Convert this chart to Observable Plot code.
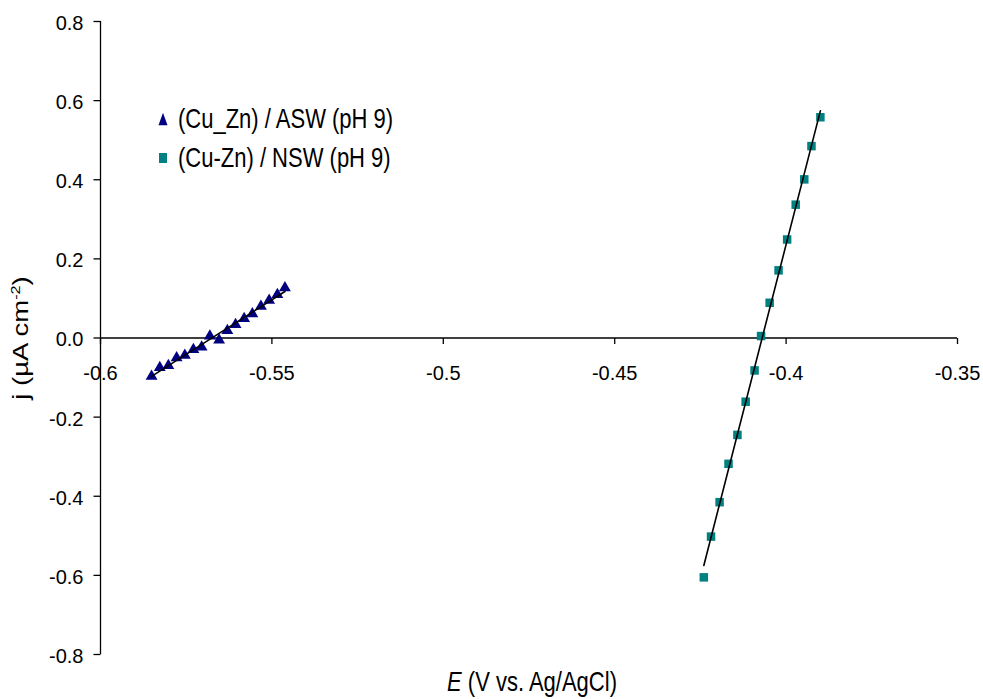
<!DOCTYPE html>
<html><head><meta charset="utf-8">
<script src="https://cdn.jsdelivr.net/npm/d3@7"></script>
<script src="https://cdn.jsdelivr.net/npm/@observablehq/plot@0.6"></script>
<style>
body{margin:0;background:#fff;font-family:"Liberation Sans",Arial,sans-serif;}
#wrap{position:relative;width:983px;height:699px;overflow:hidden;}
.lbl{position:absolute;white-space:nowrap;color:#000;font-size:22px;line-height:22px;}
</style></head><body><div id="wrap"></div>
<script>
// ---- data ----
const aswE = [-0.5851,-0.5827,-0.5802,-0.5778,-0.5754,-0.5729,-0.5705,-0.5681,-0.5654,-0.5630,-0.5606,-0.5581,-0.5557,-0.5532,-0.5508,-0.5484,-0.5462];
const aswJ = [-0.097,-0.075,-0.070,-0.050,-0.044,-0.029,-0.023,0.005,-0.005,0.019,0.034,0.049,0.061,0.080,0.095,0.110,0.127];
const nswE = [-0.3900,-0.3926,-0.3947,-0.3972,-0.3997,-0.4022,-0.4048,-0.4073,-0.4092,-0.4118,-0.4142,-0.4168,-0.4194,-0.4219,-0.4240];
const nswJ = [0.558,0.485,0.401,0.337,0.249,0.171,0.089,0.005,-0.082,-0.161,-0.245,-0.318,-0.415,-0.502,-0.605];
const seriesNames = ["(Cu_Zn) / ASW (pH 9)", "(Cu-Zn) / NSW (pH 9)"];
const seriesColors = ["#000080", "#008080"];
const xTicks = [-0.6,-0.55,-0.5,-0.45,-0.4,-0.35];
const xTickLabels = ["-0.6","-0.55","-0.5","-0.45","-0.4","-0.35"];
const yTicks = [0.8,0.6,0.4,0.2,0,-0.2,-0.4,-0.6,-0.8];
const yTickLabels = ["0.8","0.6","0.4","0.2","0.0","-0.2","-0.4","-0.6","-0.8"];
const xAxisAt = 0;      // x axis crosses at j = 0
const yAxisAt = -0.6;   // y axis at E = -0.6

const asw = aswE.map((e,i)=>({E:e, j:aswJ[i]}));
const nsw = nswE.map((e,i)=>({E:e, j:nswJ[i]}));

const tickDown = {draw(ctx){ctx.moveTo(0,0); ctx.lineTo(0,6);}};
const tickLeft = {draw(ctx){ctx.moveTo(0,0); ctx.lineTo(-7,0);}};

const chart = Plot.plot({
  width: 983, height: 699,
  marginTop: 21, marginBottom: 45, marginLeft: 100, marginRight: 26,
  x: {domain: [-0.6, -0.35], axis: null},
  y: {domain: [-0.8, 0.8], axis: null},
  style: {fontFamily: '"Liberation Sans", Arial, sans-serif', fontSize: "20px", background: "#fff"},
  marks: [
    Plot.ruleY([xAxisAt], {stroke: "black", strokeWidth: 1.3}),
    Plot.ruleX([yAxisAt], {stroke: "black", strokeWidth: 1.3}),
    Plot.dot(xTicks, {x: d=>d, y: ()=>xAxisAt, symbol: tickDown, r: 1, fill: "none", stroke: "black", strokeWidth: 1.3}),
    Plot.dot(yTicks, {y: d=>d, frameAnchor: "left", symbol: tickLeft, r: 1, fill: "none", stroke: "black", strokeWidth: 1.3}),
    Plot.text(xTicks, {x: d=>d, y: ()=>xAxisAt, text: (d,i)=>xTickLabels[i], dy: 36, fontSize: 20, fill: "black"}),
    Plot.text(yTicks, {y: d=>d, frameAnchor: "left", text: (d,i)=>yTickLabels[i], dx: -17, dy: 2, textAnchor: "end", fontSize: 20, fill: "black"}),
    Plot.dot(asw, {x: "E", y: "j", symbol: "triangle", r: 4.4, fill: seriesColors[0], stroke: "none"}),
    Plot.dot(nsw, {x: "E", y: "j", symbol: "square", r: 4.8, fill: seriesColors[1], stroke: "none"}),
    Plot.linearRegressionY(asw, {x: "E", y: "j", stroke: "black", strokeWidth: 1.6, ci: 0}),
    Plot.linearRegressionY(nsw, {x: "E", y: "j", stroke: "black", strokeWidth: 1.6, ci: 0})
  ]
});
const wrap = document.getElementById("wrap");
wrap.appendChild(chart);

function addLabel(html, left, top, transform, origin){
  const d = document.createElement("div");
  d.className = "lbl";
  d.innerHTML = html;
  d.style.left = left + "px";
  d.style.top = top + "px";
  d.style.transform = transform;
  d.style.transformOrigin = origin || "center";
  wrap.appendChild(d);
  return d;
}
// legend
const markers = [
  '<svg width="10" height="12" style="position:absolute;left:-20px;top:5px"><polygon points="5,1 9.5,11 0.5,11" fill="'+seriesColors[0]+'"/></svg>',
  '<svg width="10" height="10" style="position:absolute;left:-20px;top:6px"><rect x="1" y="1" width="8" height="8" fill="'+seriesColors[1]+'"/></svg>'
];
addLabel(markers[0] + '<span>' + seriesNames[0] + '</span>', 178, 108, "scaleY(1.25)");
addLabel(markers[1] + '<span>' + seriesNames[1] + '</span>', 178, 147, "scaleY(1.25)");
// x axis title
const xl = addLabel('<i>E</i> (V vs. Ag/AgCl)', 0, 671, "scaleY(1.25)");
xl.style.left = (532 - xl.offsetWidth/2) + "px";
// y axis title
const yl = addLabel('j (µA cm<sup style="font-size:13px;vertical-align:8px;line-height:0">-2</sup>)', 0, 0, "rotate(-90deg) scaleX(1.25)");
yl.style.left = (21 - yl.offsetWidth/2) + "px";
yl.style.top = (338 - yl.offsetHeight/2) + "px";
</script></body></html>
